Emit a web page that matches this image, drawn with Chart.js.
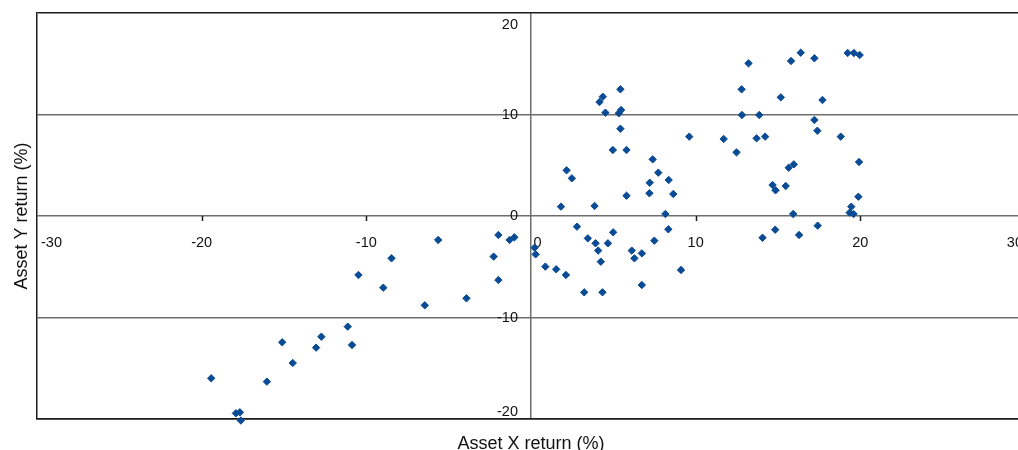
<!DOCTYPE html>
<html>
<head>
<meta charset="utf-8">
<script src="https://cdn.jsdelivr.net/npm/chart.js@4.4.0/dist/chart.umd.min.js"></script>
<style>
  html, body { margin: 0; padding: 0; background: #fff; overflow: hidden; }
  #wrap { width: 1018px; height: 450px; overflow: hidden; }
  canvas { display: block; }
</style>
</head>
<body>
<div id="wrap"><canvas id="scatterChart" width="1040" height="450"></canvas></div>
<script>
// returns, one pair per point
const assetX = [
    -19.42, -17.92, -17.68, -17.62, -16.04, -15.11, -14.47, -13.05, -12.73, -11.13, -10.87,
    -10.48, -8.97, -8.47, -6.45, -5.64, -3.92, -2.27, -1.98, -1.98, -1.3, -1.01,
    0.22, 0.28, 0.87, 1.53, 2.12, 2.79, 3.45, 3.92, 4.08, 4.24, 4.67, 4.99, 3.23,
    4.34, 6.12, 6.28, 6.73, 6.73, 7.49, 8.34, 9.11, 14.06, 14.83, 16.28, 17.41,
    5.43, 4.36, 4.16, 4.52, 5.33, 5.47, 5.43, 4.97, 5.8, 2.16, 2.48, 1.82, 3.86,
    5.8, 7.39, 7.21, 7.19, 7.73, 8.36, 8.64, 8.16, 9.61, 11.7, 12.48, 12.79, 12.81,
    13.21, 13.7, 13.86, 14.22, 14.67, 14.85, 15.17, 15.47, 15.65, 15.96, 15.79, 15.92,
    16.38, 17.21, 17.21, 17.39, 17.7, 18.81, 19.23, 19.61, 19.96, 19.92, 19.88, 19.45,
    19.35, 19.59
];
const assetY = [
    -15.99, -19.44, -19.34, -20.15, -16.32, -12.44, -14.48, -12.97, -11.89, -10.9, -12.71,
    -5.81, -7.06, -4.17, -8.8, -2.36, -8.11, -4.0, -1.87, -6.31, -2.36, -2.1,
    -3.12, -3.78, -4.99, -5.25, -5.81, -1.05, -2.2, -2.69, -3.41, -4.5, -2.69, -1.61, -7.52,
    -7.52, -3.41, -4.17, -3.68, -6.8, -2.43, -1.31, -5.32, -2.14, -1.35, -1.87, -0.95,
    12.48, 11.75, 11.23, 10.18, 10.12, 10.44, 8.6, 6.5, 6.5, 4.5, 3.71, 0.92, 0.99,
    2.0, 5.58, 3.28, 2.24, 4.27, 3.55, 2.17, 0.2, 7.82, 7.59, 6.27, 12.48, 9.95,
    15.04, 7.65, 9.95, 7.82, 3.05, 2.53, 11.69, 2.96, 4.76, 5.09, 15.27, 0.2,
    16.09, 15.54, 9.46, 8.4, 11.43, 7.82, 16.06, 16.06, 15.86, 5.32, 1.9, 0.92,
    0.33, 0.2
];
const xTicks = [-30, -20, -10, 0, 10, 20, 30];
const yTicks = [-20, -10, 0, 10, 20];
const xTitle = 'Asset X return (%)';
const yTitle = 'Asset Y return (%)';

const FONT = '"Liberation Sans", Arial, Helvetica, sans-serif';
const BORDER = '#1c1c1c';
const GRID = '#6e6e6e';

// labels sit on the axes that cross at 0, so they are drawn here
const crossAxes = {
    id: 'crossAxes',
    beforeDatasetsDraw(chart) {
        const { ctx, chartArea: a, scales: { x, y } } = chart;
        const x0 = x.getPixelForValue(0);
        const y0 = y.getPixelForValue(0);
        ctx.save();

        // small tick marks under the x axis
        ctx.strokeStyle = BORDER;
        ctx.lineWidth = 1.5;
        xTicks.forEach(v => {
            if (v === 0 || v === xTicks[0] || v === xTicks[xTicks.length - 1]) return;
            const px = Math.round(x.getPixelForValue(v)) + 0.5;
            ctx.beginPath();
            ctx.moveTo(px, y0);
            ctx.lineTo(px, y0 + 5);
            ctx.stroke();
        });

        ctx.fillStyle = '#111';
        ctx.font = '14.5px ' + FONT;
        ctx.textBaseline = 'alphabetic';

        ctx.textAlign = 'left';
        xTicks.forEach(v => {
            const txt = String(v);
            const w = ctx.measureText(txt).width;
            let left = v === 0 ? x0 + 2.5 : x.getPixelForValue(v) - w / 2;
            left = Math.max(left, a.left + 4);
            left = Math.min(left, a.right - w - 2);
            ctx.fillText(txt, left, y0 + 30.5);
        });

        ctx.textAlign = 'right';
        yTicks.forEach(v => {
            let base = y.getPixelForValue(v) + 4.2;
            base = Math.min(Math.max(base, a.top + 16.2), a.bottom - 3);
            ctx.fillText(String(v), x0 - 13, base);
        });
        ctx.restore();
    },
    afterDraw(chart) {
        const { ctx, chartArea: a } = chart;
        ctx.save();
        ctx.fillStyle = '#111';
        ctx.font = '18px ' + FONT;
        ctx.textAlign = 'center';
        ctx.textBaseline = 'alphabetic';
        ctx.fillText(xTitle, (a.left + a.right) / 2, 448.5);

        ctx.translate(27, (a.top + a.bottom) / 2);
        ctx.rotate(-Math.PI / 2);
        ctx.fillText(yTitle, 0, 0);
        ctx.restore();
    }
};

const points = assetX.map((v, i) => ({ x: v, y: assetY[i] }));

new Chart(document.getElementById('scatterChart'), {
    type: 'scatter',
    data: {
        datasets: [{
            label: 'Returns',
            data: points,
            pointStyle: 'rectRot',
            pointRadius: 3.7,
            pointBorderWidth: 1,
            backgroundColor: '#0a4b95',
            borderColor: '#0a4b95',
            clip: false
        }]
    },
    options: {
        responsive: false,
        animation: false,
        layout: { padding: { left: 37, top: 13, right: 15, bottom: 31 } },
        scales: {
            x: {
                type: 'linear',
                min: -30,
                max: 30,
                afterBuildTicks: s => { s.ticks = xTicks.map(v => ({ value: v })); },
                ticks: { display: false },
                grid: {
                    drawTicks: false,
                    lineWidth: 1.5,
                    color: c => (c.tick && c.tick.value === 0) ? GRID : 'rgba(0,0,0,0)'
                },
                border: { display: true, color: BORDER, width: 1.5 }
            },
            y: {
                type: 'linear',
                min: -20,
                max: 20,
                afterBuildTicks: s => { s.ticks = yTicks.map(v => ({ value: v })); },
                ticks: { display: false },
                grid: {
                    drawTicks: false,
                    lineWidth: 1.5,
                    color: c => (c.tick && Math.abs(c.tick.value) === 20) ? BORDER : GRID
                },
                border: { display: true, color: BORDER, width: 1.5 }
            }
        },
        plugins: {
            legend: { display: false },
            tooltip: { enabled: false }
        }
    },
    plugins: [crossAxes]
});
</script>
</body>
</html>
